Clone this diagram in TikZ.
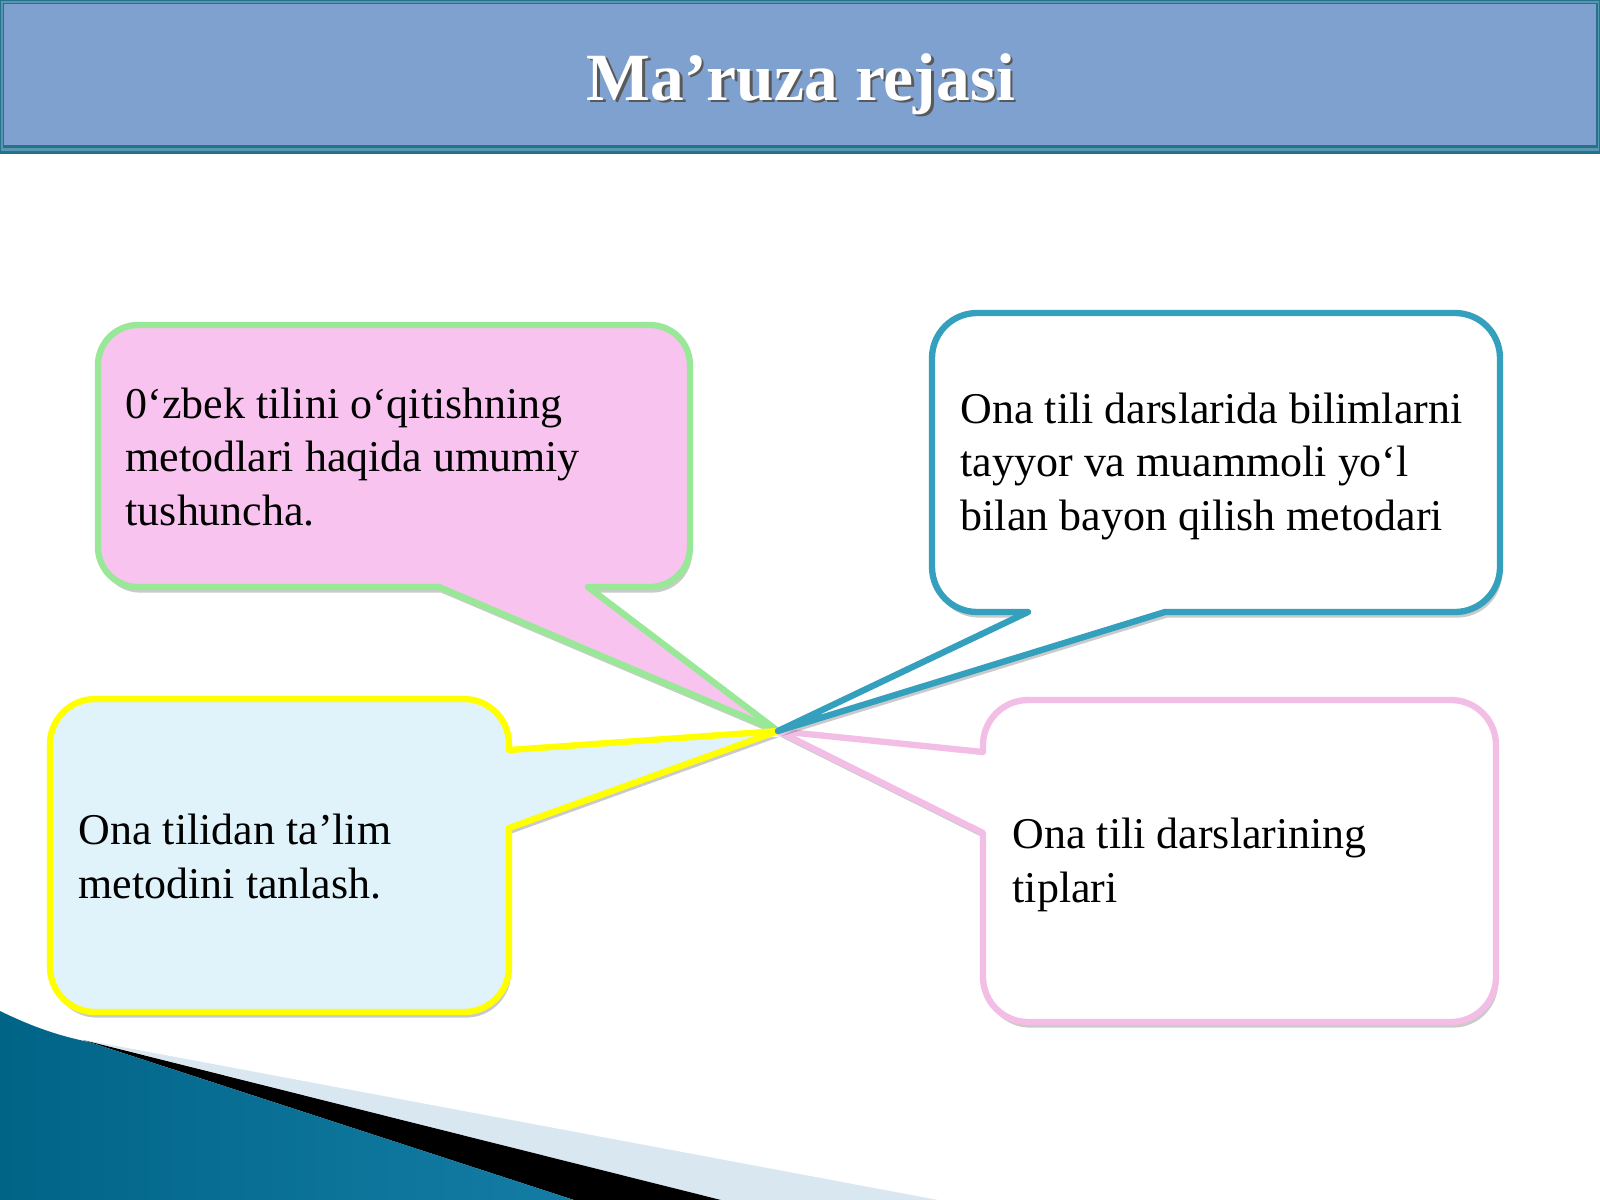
\documentclass[tikz,border=0pt]{standalone}
\usepackage{fontspec}
\setmainfont{Liberation Serif}
\usetikzlibrary{shadows}

\definecolor{bandfill}{RGB}{127,161,208}
\definecolor{bandedge}{RGB}{40,112,140}
\definecolor{bandlite}{RGB}{86,152,178}
\definecolor{greenline}{RGB}{152,232,152}
\definecolor{pinkfill}{RGB}{248,195,238}
\definecolor{tealline}{RGB}{52,160,190}
\definecolor{yellowline}{RGB}{255,255,0}
\definecolor{icefill}{RGB}{224,242,250}
\definecolor{pinkline}{RGB}{242,190,230}
\definecolor{swdark}{RGB}{0,100,135}
\definecolor{swlight}{RGB}{100,190,225}
\definecolor{swmid}{RGB}{20,125,165}
\definecolor{swgrey}{RGB}{216,231,240}

\begin{document}
\begin{tikzpicture}[x=0.01cm, y=-0.01cm,
  bubble/.style={line width=1.8pt, line join=round,
    drop shadow={shadow xshift=0.6pt, shadow yshift=-1.6pt, fill=black!60, opacity=.35}},
  plan/.style={anchor=base west, align=left, inner sep=0pt,
    font=\fontsize{12.5}{15.1}\selectfont},
  heading/.style={anchor=base, font=\bfseries\fontsize{19.2}{23}\selectfont}]

  \useasboundingbox (0,0) rectangle (1600,1200);

  % title band
  \fill[bandedge] (0,0) rectangle (1600,154);
  \fill[bandlite] (1.5,1.5) rectangle (1598.5,151);
  \fill[bandedge] (2.5,2.5) rectangle (1597.5,148);
  \fill[bandfill] (4,4) rectangle (1596,145);
  \node (titleshadow) [heading, text=black!65] at (803.5,102.5) {Ma’ruza rejasi};
  \node (title) [heading, text=white] at (801,100) {Ma’ruza rejasi};

  % bottom corner
  \fill[swgrey] (85,1040) -- (938,1200) -- (721,1200) -- cycle;
  \fill[black] (83,1040) -- (721,1200) -- (574,1200) -- cycle;
  \shade[left color=swdark, middle color=swlight, right color=swmid]
    (0,1011) .. controls (35,1028) and (60,1036) .. (89,1042) -- (574,1200) -- (0,1200) -- cycle;

  \coordinate (tip) at (778,731);

  % bubbles
  \filldraw[bubble, draw=greenline, fill=pinkfill] (tip) -- (588,587) [rounded corners=4mm]
    -- (690,587) -- (690,325) -- (98,325) -- (98,587) [sharp corners] -- (439,587) -- cycle;
  \filldraw[bubble, draw=yellowline, fill=icefill] (tip) -- (509,828) [rounded corners=4.5mm]
    -- (509,1012) -- (50,1012) -- (50,699) -- (509,699) [sharp corners] -- (509,750) -- cycle;
  \filldraw[bubble, draw=pinkline, fill=white] (tip) -- (983,833) [rounded corners=4.5mm]
    -- (983,1022) -- (1496,1022) -- (1496,700) -- (983,700) [sharp corners] -- (983,752) -- cycle;
  \filldraw[bubble, draw=tealline, fill=white] (tip) -- (1165,612) [rounded corners=4.5mm]
    -- (1500,612) -- (1500,313) -- (932,313) -- (932,612) [sharp corners] -- (1028,612) -- cycle;

  \node (plan1) [plan] at (125,525) {0‘zbek tilini o‘qitishning\\metodlari haqida umumiy\\tushuncha.};
  \node (plan2) [plan] at (960,530) {Ona tili darslarida bilimlarni\\tayyor va muammoli yo‘l\\bilan bayon qilish metodari};
  \node (plan3) [plan] at (78,898) {Ona tilidan ta’lim\\metodini tanlash.};
  \node (plan4) [plan] at (1012,902) {Ona tili darslarining\\tiplari};
\end{tikzpicture}
\end{document}
